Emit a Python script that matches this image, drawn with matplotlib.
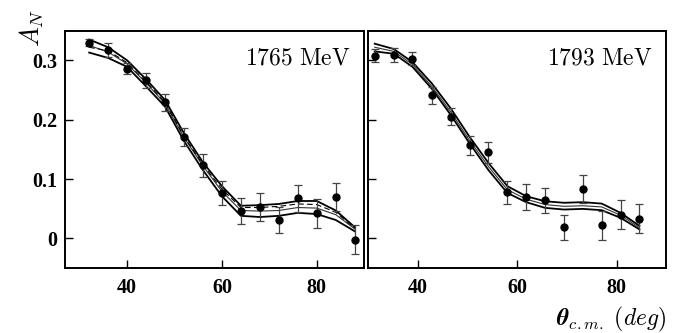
import matplotlib
matplotlib.use("Agg")
import matplotlib.pyplot as plt

plt.rcParams['mathtext.fontset'] = 'cm'

# ---- data: 1765 MeV ----
x1 = [32, 36, 40, 44, 48, 52, 56, 60, 64, 68, 72, 76, 80, 84, 88]
y1 = [0.330, 0.317, 0.286, 0.266, 0.229, 0.171, 0.123, 0.0765, 0.046, 0.053,
      0.031, 0.0675, 0.042, 0.070, -0.002]
e1 = [0.0067, 0.012, 0.0098, 0.013, 0.0148, 0.0154, 0.0195, 0.0195, 0.022, 0.023,
      0.022, 0.023, 0.024, 0.024, 0.024]
upper1 = [0.335, 0.322, 0.300, 0.268, 0.233, 0.177, 0.128, 0.088, 0.055, 0.056,
          0.058, 0.063, 0.063, 0.047, 0.019]
mid1 = [0.325, 0.314, 0.294, 0.262, 0.227, 0.170, 0.122, 0.079, 0.047, 0.046,
        0.047, 0.052, 0.051, 0.040, 0.016]
dash1 = [0.322, 0.316, 0.296, 0.264, 0.229, 0.172, 0.124, 0.083, 0.052, 0.052,
         0.054, 0.058, 0.057, 0.044, 0.017]
lower1 = [0.313, 0.304, 0.289, 0.256, 0.222, 0.164, 0.115, 0.071, 0.038, 0.036,
          0.038, 0.043, 0.041, 0.031, 0.012]

# ---- data: 1793 MeV ----
x2 = [31.3, 35.15, 38.9, 42.8, 46.6, 50.4, 54.2, 58.0, 61.8, 65.6, 69.4, 73.2,
      77.0, 80.8, 84.6]
y2 = [0.308, 0.309, 0.303, 0.241, 0.205, 0.157, 0.145, 0.078, 0.070, 0.064,
      0.019, 0.083, 0.022, 0.040, 0.0335]
e2 = [0.011, 0.012, 0.011, 0.014, 0.014, 0.016, 0.018, 0.0195, 0.022, 0.021,
      0.021, 0.024, 0.024, 0.024, 0.024]
upper2 = [0.328, 0.319, 0.297, 0.261, 0.219, 0.171, 0.127, 0.088, 0.071, 0.0625,
          0.060, 0.061, 0.0586, 0.043, 0.021]
mid2 = [0.322, 0.315, 0.293, 0.256, 0.213, 0.165, 0.121, 0.082, 0.066, 0.057,
        0.054, 0.055, 0.053, 0.039, 0.018]
lower2 = [0.315, 0.311, 0.289, 0.252, 0.208, 0.160, 0.115, 0.0765, 0.061, 0.0514,
          0.0486, 0.0497, 0.0475, 0.0346, 0.0151]

labels = ['1765 MeV', '1793 MeV']
xticks = [40, 60, 80]
yticks = [0, 0.1, 0.2, 0.3]
ytick_labels = ['0', '0.1', '0.2', '0.3']

fig = plt.figure(figsize=(6.82, 3.33), dpi=100)
ax1 = fig.add_axes([0.096, 0.195, 0.438, 0.713])
ax2 = fig.add_axes([0.540, 0.195, 0.437, 0.713])

panels = [
    (ax1, x1, y1, e1, upper1, mid1, lower1, dash1, (27, 90), labels[0]),
    (ax2, x2, y2, e2, upper2, mid2, lower2, None, (30, 90), labels[1]),
]

for ax, x, y, e, up, md, lo, ds, xl, lab in panels:
    ax.plot(x, up, color='black', lw=1.3, zorder=2)
    ax.plot(x, lo, color='black', lw=1.3, zorder=2)
    ax.plot(x, md, color='#333333', lw=0.8, zorder=2)
    if ds is not None:
        ax.plot(x, ds, color='black', lw=0.8, ls=(0, (5, 3)), zorder=2)
    ax.errorbar(x, y, yerr=e, fmt='o', color='black', ecolor='#444444',
                elinewidth=0.9, capsize=3, capthick=0.9, markersize=5, zorder=3)
    ax.set_xlim(*xl)
    ax.set_ylim(-0.05, 0.35)
    ax.set_xticks(xticks)
    ax.set_yticks(yticks)
    ax.tick_params(direction='in', length=6, width=1, top=False, right=False)
    for sp in ax.spines.values():
        sp.set_linewidth(1.4)
    ax.text(0.955, 0.885, r'$\mathrm{' + lab.replace(' ', r'\ ') + r'}$',
            transform=ax.transAxes, ha='right', va='center', fontsize=17)
    for t in ax.get_xticklabels():
        t.set_fontfamily('Liberation Serif')
        t.set_fontweight('bold')
        t.set_fontsize(14.5)

ax1.set_yticklabels(ytick_labels, fontfamily='Liberation Serif',
                    fontweight='bold', fontsize=14.5)
ax2.set_yticklabels([])
ax1.tick_params(axis='x', pad=7)
ax2.tick_params(axis='x', pad=7)
ax1.tick_params(axis='y', pad=6)

fig.text(0.046, 0.915, r'$A_N$', rotation=90, fontsize=19, ha='center', va='center')
fig.text(0.977, 0.042, r'$\boldsymbol{\theta}_{c.m.}\ (deg)$', fontsize=17,
         ha='right', va='center')

fig.savefig('out.png', dpi=100)
